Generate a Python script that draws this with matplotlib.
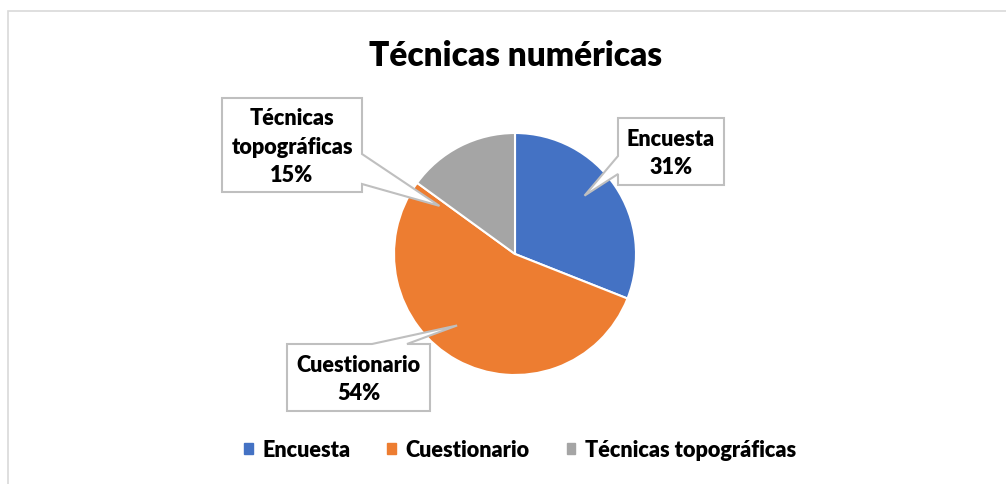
import numpy as np
import matplotlib.pyplot as plt
from matplotlib.patches import Polygon, Patch, Rectangle

plt.rcParams['font.family'] = ['Lato', 'DejaVu Sans']

# data
labels = ['Encuesta', 'Cuestionario', 'Técnicas topográficas']
box_text = ['Encuesta', 'Cuestionario', 'Técnicas\ntopográficas']
values = [31, 54, 15]
colors = ['#4472C4', '#ED7D31', '#A5A5A5']

W, H = 1006, 485
CX, CY, R = 515, 255, 121
WEIGHT = 'heavy'
FS = 15.6


def px(x, y):
    # pixel coords (origin top-left) -> data coords
    return x, H - y


fig = plt.figure(figsize=(W / 100, H / 100), dpi=100)
ax = fig.add_axes([0, 0, 1, 1])

# chart frame (only left and top edges show)
ax.add_patch(Rectangle(px(8, 500), W, 488, fill=False, ec='#D9D9D9', lw=1.2))

wedges, _ = ax.pie(values, colors=colors, startangle=90, counterclock=False,
                   center=px(CX, CY), radius=R, frame=True,
                   wedgeprops=dict(edgecolor='white', linewidth=1.5))
ax.set_xlim(0, W)
ax.set_ylim(0, H)
ax.axis('off')

ax.text(*px(CX + 1, 56), 'Técnicas numéricas', ha='center', va='center',
        fontsize=24, fontweight=WEIGHT, color='black')

# callout boxes: (left, top, right, bottom), pointer side, base span, tip (angle, r)
callouts = [
    ((618, 119, 724, 186), 'left', (157, 175), (40, 0.75)),
    ((287, 345, 430, 412), 'top', (372, 407), (231, 0.76)),
    ((222, 99, 362, 193), 'right', (155, 185), (147.5, 0.74)),
]

for i, (box, side, base, tip) in enumerate(callouts):
    l, t, r, b = box
    ang, rf = tip
    tx = CX + R * rf * np.cos(np.radians(ang))
    ty = CY - R * rf * np.sin(np.radians(ang))
    if side == 'left':
        pts = [(l, t), (r, t), (r, b), (l, b), (l, base[1]), (tx, ty), (l, base[0])]
    elif side == 'right':
        pts = [(l, t), (r, t), (r, base[0]), (tx, ty), (r, base[1]), (r, b), (l, b)]
    else:
        pts = [(l, t), (base[0], t), (tx, ty), (base[1], t), (r, t), (r, b), (l, b)]
    ax.add_patch(Polygon([px(x, y) for x, y in pts], closed=True,
                         fc='white', ec='#BFBFBF', lw=1.5, zorder=3))
    ax.text(*px((l + r) / 2, (t + b) / 2 + 1), f'{box_text[i]}\n{values[i]}%',
            ha='center', va='center', fontsize=FS, fontweight=WEIGHT,
            linespacing=1.42, zorder=4)

handles = [Patch(color=c, label=lab) for c, lab in zip(colors, labels)]
fig.legend(handles=handles, loc='center', bbox_to_anchor=(520 / W, 1 - 451 / H),
           ncol=3, frameon=False, handlelength=0.4, handleheight=0.38,
           handletextpad=0.45, columnspacing=1.7,
           prop=dict(size=FS, weight=WEIGHT))

fig.savefig('out.png', dpi=100)
